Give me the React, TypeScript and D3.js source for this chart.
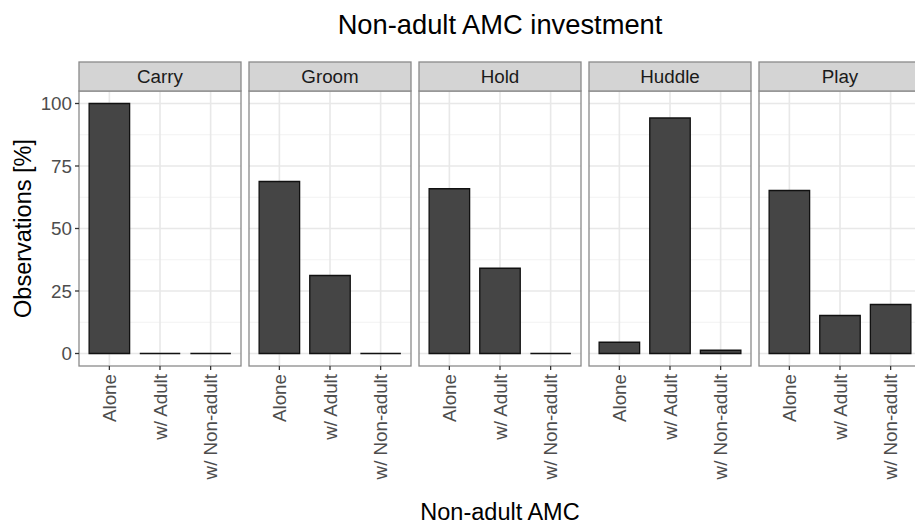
import React from 'react';
import * as d3 from 'd3';

// facets and categories
const behaviors = ['Carry', 'Groom', 'Hold', 'Huddle', 'Play'];
const partners = ['Alone', 'w/ Adult', 'w/ Non-adult'];

// % of observations, in partner order
const carryPct = [100, 0, 0];
const groomPct = [68.8, 31.2, 0];
const holdPct = [65.9, 34.1, 0];
const huddlePct = [4.5, 94.2, 1.3];
const playPct = [65.2, 15.2, 19.6];

const yTicks = [0, 25, 50, 75, 100];
const yMinor = [12.5, 37.5, 62.5, 87.5];

const W = 915;
const H = 526;
const FONT = '"Liberation Sans", Arial, Helvetica, sans-serif';

const valuesByBehavior: Record<string, number[]> = {
  Carry: carryPct,
  Groom: groomPct,
  Hold: holdPct,
  Huddle: huddlePct,
  Play: playPct,
};

export default function App() {
  const panelTop = 91;
  const panelBottom = 366;
  const stripTop = 62;

  const facet = d3.scaleBand<string>()
    .domain(behaviors)
    .range([79, 921])
    .paddingInner(8 / 170)
    .paddingOuter(0);

  const x = d3.scaleBand<string>()
    .domain(partners)
    .range([0, facet.bandwidth()])
    .paddingInner(0.2)
    .paddingOuter(0.2);

  const y = d3.scaleLinear().domain([-5, 105]).range([panelBottom, panelTop]);

  // path so that zero-height bars still show their outline
  const barPath = (x0: number, w: number, v: number) => {
    const p = d3.path();
    p.rect(x0, y(v), w, y(0) - y(v));
    return p.toString();
  };

  return (
    <svg width={W} height={H} style={{ position: 'absolute', left: 0, top: 0, background: '#fff' }}
      fontFamily={FONT}>
      <rect x={0} y={0} width={W} height={H} fill="#fff" />

      <text x={500} y={34} textAnchor="middle" fontSize={27.3} fill="#000">Non-adult AMC investment</text>

      {behaviors.map((b) => {
        const px = facet(b) as number;
        const pw = facet.bandwidth();
        const vals = valuesByBehavior[b];
        return (
          <g key={b} transform={`translate(${px},0)`}>
            {/* panel background + grid */}
            <rect x={0} y={panelTop} width={pw} height={panelBottom - panelTop} fill="#fff" />
            {yMinor.map((t) => (
              <line key={'mi' + t} x1={0} x2={pw} y1={y(t)} y2={y(t)} stroke="#f2f2f2" strokeWidth={1} />
            ))}
            {yTicks.map((t) => (
              <line key={'ma' + t} x1={0} x2={pw} y1={y(t)} y2={y(t)} stroke="#e8e8e8" strokeWidth={1.6} />
            ))}
            {partners.map((p) => {
              const cx = (x(p) as number) + x.bandwidth() / 2;
              return <line key={'v' + p} x1={cx} x2={cx} y1={panelTop} y2={panelBottom} stroke="#e8e8e8" strokeWidth={1.6} />;
            })}

            {/* bars */}
            {partners.map((p, i) => (
              <path key={'bar' + p}
                d={barPath(x(p) as number, x.bandwidth(), vals[i])}
                fill="#454545"
                stroke="#111"
                strokeWidth={1.3} />
            ))}

            {/* border */}
            <rect x={0} y={panelTop} width={pw} height={panelBottom - panelTop} fill="none" stroke="#8a8a8a" strokeWidth={1.3} />

            {/* strip */}
            <rect x={0} y={stripTop} width={pw} height={panelTop - stripTop} fill="#d4d4d4" stroke="#8a8a8a" strokeWidth={1.3} />
            <text x={pw / 2} y={(stripTop + panelTop) / 2} dy="0.36em" textAnchor="middle" fontSize={18.8} fill="#1a1a1a">{b}</text>

            {/* x ticks + labels */}
            {partners.map((p) => {
              const cx = (x(p) as number) + x.bandwidth() / 2;
              return (
                <g key={'xt' + p}>
                  <line x1={cx} x2={cx} y1={panelBottom} y2={panelBottom + 4} stroke="#333" strokeWidth={1.3} />
                  <text transform={`translate(${cx},${panelBottom + 8}) rotate(-90)`}
                    dy="0.35em" textAnchor="end" fontSize={18.8} fill="#4d4d4d">{p}</text>
                </g>
              );
            })}
          </g>
        );
      })}

      {/* y axis */}
      {yTicks.map((t) => (
        <g key={'yt' + t}>
          <line x1={75} x2={79} y1={y(t)} y2={y(t)} stroke="#333" strokeWidth={1.3} />
          <text x={72} y={y(t)} dy="0.35em" textAnchor="end" fontSize={18.8} fill="#4d4d4d">{t}</text>
        </g>
      ))}

      <text transform={`translate(31,${(panelTop + panelBottom) / 2}) rotate(-90)`} textAnchor="middle"
        fontSize={23.5} fill="#000">Observations [%]</text>
      <text x={500} y={520} textAnchor="middle" fontSize={23.5} fill="#000">Non-adult AMC</text>
    </svg>
  );
}
